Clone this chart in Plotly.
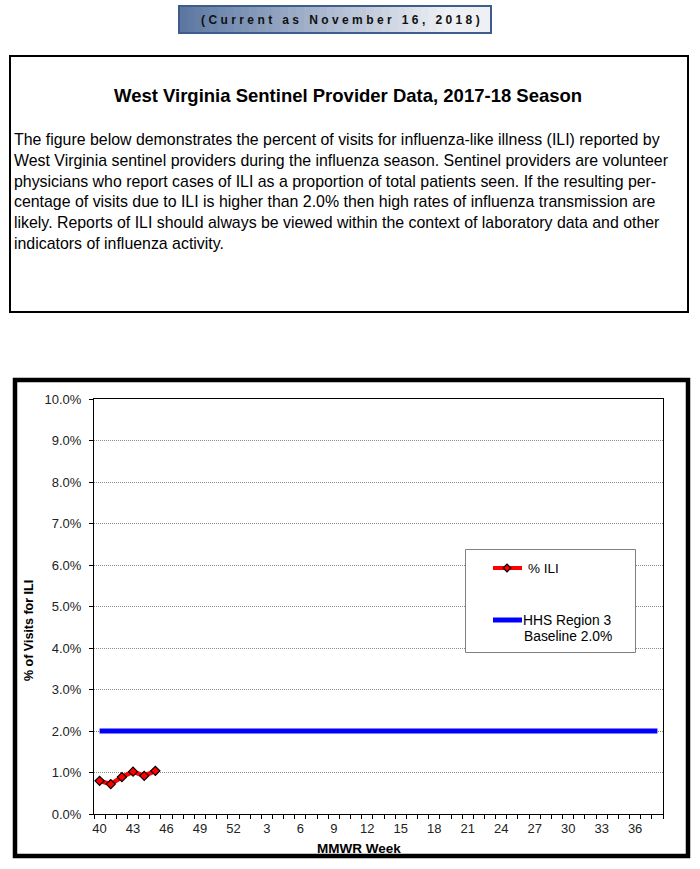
import plotly.graph_objects as go

# ---------------- data ----------------
weeks = list(range(40, 53)) + list(range(1, 39))
week_labels = [str(w) for w in weeks]
ili_weeks = [40, 41, 42, 43, 44, 45]
ili_pct = [0.80, 0.72, 0.89, 1.02, 0.92, 1.04]
baseline_pct = 2.0
label_step = 3
y_max = 10
y_step = 1

badge_text = "(Current as November 16, 2018)"
box_title = "West Virginia Sentinel Provider Data, 2017-18 Season"
paragraph_lines = [
    "The figure below demonstrates the percent of visits for influenza-like illness (ILI) reported by",
    "West Virginia sentinel providers during the influenza season. Sentinel providers are volunteer",
    "physicians who report cases of ILI as a proportion of total patients seen. If the resulting per-",
    "centage of visits due to ILI is higher than 2.0% then high rates of influenza transmission are",
    "likely. Reports of ILI should always be viewed within the context of laboratory data and other",
    "indicators of influenza activity.",
]
ili_name = "% ILI"
baseline_name_lines = ["HHS Region 3", "Baseline 2.0%"]
y_title = "% of Visits for ILI"
x_title = "MMWR Week"

# ---------------- layout geometry (pixels) ----------------
W, H = 700, 869
PL, PR, PT, PB = 94, 663, 399, 814
FONT = "Arial, Liberation Sans, sans-serif"
TEXT_PAD = 2.5  # annotation inner padding compensation for left-anchored text


def px(x):
    return (x - PL) / (PR - PL)


def py(y):
    return (PB - y) / (PB - PT)


idx = {w: i for i, w in enumerate(weeks)}
x_all = list(range(len(weeks)))
x_ili = [idx[w] for w in ili_weeks]

fig = go.Figure()
fig.add_trace(go.Scatter(
    x=x_all, y=[baseline_pct] * len(weeks), mode="lines",
    line=dict(color="#0000FF", width=5), name=" / ".join(baseline_name_lines),
    showlegend=False, hoverinfo="skip"))
fig.add_trace(go.Scatter(
    x=x_ili, y=ili_pct, mode="lines+markers",
    line=dict(color="#FF0000", width=4.5),
    marker=dict(symbol="diamond", size=7, color="#FF0000",
                line=dict(color="#000000", width=1.2)),
    name=ili_name, showlegend=False))

shapes = []
annotations = []


def rect(x0, y0, x1, y1, **kw):
    shapes.append(dict(type="rect", xref="paper", yref="paper",
                       x0=px(x0), x1=px(x1), y0=py(y0), y1=py(y1), **kw))


def line(x0, y0, x1, y1, **kw):
    shapes.append(dict(type="line", xref="paper", yref="paper",
                       x0=px(x0), x1=px(x1), y0=py(y0), y1=py(y1), **kw))


def text(x, y, t, size, xanchor="left", bold=False, color="#000", angle=0):
    if xanchor == "left":
        x -= TEXT_PAD
    annotations.append(dict(
        xref="paper", yref="paper", x=px(x), y=py(y), text=(f"<b>{t}</b>" if bold else t),
        showarrow=False, xanchor=xanchor, yanchor="middle", textangle=angle,
        font=dict(family=FONT, size=size, color=color)))


# badge with horizontal gradient
bx0, bx1, by0, by1 = 179, 491, 6, 33
n = 40
c0 = (92, 120, 162)
c1 = (238, 240, 244)
for k in range(n):
    t = k / (n - 1)
    t = min(1.0, t * 1.15)
    c = tuple(int(round(c0[j] + (c1[j] - c0[j]) * t)) for j in range(3))
    xa = bx0 + (bx1 - bx0) * k / n
    xb = bx0 + (bx1 - bx0) * (k + 1) / n + 0.6
    rect(xa, by0, xb, by1, line=dict(width=0), fillcolor=f"rgb{c}", layer="below")
rect(bx0, by0, bx1, by1, line=dict(color="#3d5d8c", width=2), fillcolor="rgba(0,0,0,0)")
annotations.append(dict(
    xref="paper", yref="paper", x=px(342), y=py(20),
    text=f'<span style="letter-spacing:3.4px"><b>{badge_text}</b></span>',
    showarrow=False, xanchor="center", yanchor="middle",
    font=dict(family=FONT, size=12, color="#111")))

# description box
rect(10, 56, 688, 312, line=dict(color="#000", width=2), fillcolor="rgba(0,0,0,0)")
text(348, 96, box_title, 18.5, xanchor="center", bold=True)
line_y0, line_dy = 139.5, 20.8
for i, ln in enumerate(paragraph_lines):
    text(14, line_y0 + i * line_dy, ln, 15.9)

# chart frame
rect(15, 380, 688, 856, line=dict(color="#000", width=4.5), fillcolor="rgba(0,0,0,0)")

# axis titles
text(29, 631, y_title, 12.5, xanchor="center", bold=True, angle=-90)
text(359, 848, x_title, 13.5, xanchor="center", bold=True)

# legend
rect(465.5, 549.5, 635.5, 652.5, line=dict(color="#808080", width=1), fillcolor="#fff")
line(493, 568, 522, 568, line=dict(color="#FF0000", width=4))
dx, dy = 3.8, 3.8
cx, cy = 507, 568
shapes.append(dict(type="path", xref="paper", yref="paper",
                   path=(f"M {px(cx - dx)} {py(cy)} L {px(cx)} {py(cy - dy)} "
                         f"L {px(cx + dx)} {py(cy)} L {px(cx)} {py(cy + dy)} Z"),
                   fillcolor="#FF0000", line=dict(color="#000", width=1.2)))
text(528, 568, ili_name, 13.5)
line(493, 620, 522, 620, line=dict(color="#0000FF", width=5))
text(523, 620, baseline_name_lines[0], 13.8)
text(524, 636, baseline_name_lines[1], 13.8)

tickvals = list(range(0, len(weeks), label_step))
fig.update_layout(
    width=W, height=H, autosize=False,
    margin=dict(l=PL, r=W - PR, t=PT, b=H - PB, pad=0),
    paper_bgcolor="#fff", plot_bgcolor="#fff",
    showlegend=False,
    shapes=shapes, annotations=annotations,
    font=dict(family=FONT, color="#222"),
    xaxis=dict(
        range=[-0.5, len(weeks) - 0.5], tickmode="array", tickvals=tickvals,
        ticktext=[week_labels[i] for i in tickvals], ticks="",
        tickfont=dict(size=13, color="#222", family=FONT), ticklabelstandoff=2,
        minor=dict(tickmode="array", tickvals=[i - 0.5 for i in range(len(weeks) + 1)],
                   ticks="outside", ticklen=4, tickcolor="#000", tickwidth=1, showgrid=False),
        showgrid=False, zeroline=False, showline=True, linecolor="#000", linewidth=1,
        mirror=True, fixedrange=True,
    ),
    yaxis=dict(
        range=[0, y_max], tickmode="linear", tick0=0, dtick=y_step,
        tickformat=".1f", ticksuffix="%", ticks="outside", ticklen=4, tickcolor="#000",
        tickfont=dict(size=13, color="#222", family=FONT), ticklabelstandoff=5,
        showgrid=True, gridcolor="#8c8c8c", griddash="1px,1px", gridwidth=1,
        zeroline=False, showline=True, linecolor="#000", linewidth=1, mirror=True,
        fixedrange=True,
    ),
)

fig.write_html("out.html", config={"displayModeBar": False},
               post_script="document.body.style.margin='0';document.body.style.overflow='hidden';")
